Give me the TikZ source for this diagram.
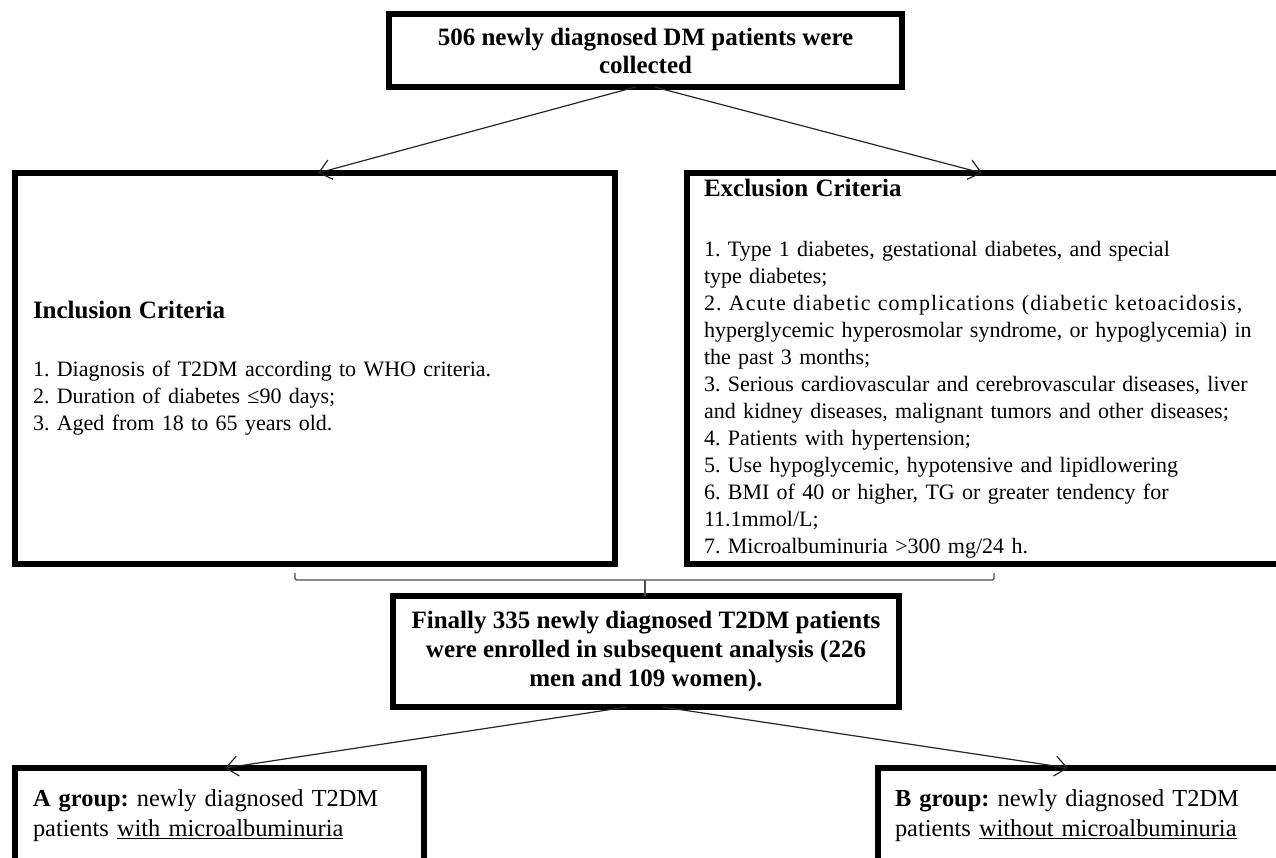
\documentclass[tikz,border=0pt]{standalone}
\usepackage{fontspec}
\setmainfont{Liberation Serif}
\usetikzlibrary{arrows.meta}
\newcommand\bodyfont{\fontsize{22}{27}\selectfont}
\newcommand\titlefont{\fontsize{25}{29}\selectfont\bfseries}
\begin{document}
\frenchspacing
\begin{tikzpicture}[x=1pt,y=-1pt,
  box/.style={draw=black, line width=5.5pt, inner sep=0pt, outer sep=0pt},
  arr/.style={draw=black!85, line width=1.2pt, -{Straight Barb[length=12pt,width=20pt,line width=1.2pt]}},
  brk/.style={draw=black!70, line width=1.3pt, rounded corners=1.5pt}]
\useasboundingbox (0,0) rectangle (1276,857);
\clip (0,0) rectangle (1276,857);
\fill[white] (0,0) rectangle (1276,857);

% top box
\node[box, minimum width=513pt, minimum height=73pt, align=center,
      font=\fontsize{25}{28}\selectfont\bfseries] (top) at (645.5,50.5)
  {506 newly diagnosed DM patients were\\collected};

% inclusion box
\node[box, minimum width=600pt, minimum height=391pt, text width=564pt, align=left,
      font=\bodyfont] (inc) at (315,368.5)
  {{\titlefont Inclusion Criteria}\\[31pt]
   1. Diagnosis of T2DM according to WHO criteria.\\
   2. Duration of diabetes ≤90 days;\\
   3. Aged from 18 to 65 years old.};

% exclusion box
\node[box, minimum width=603pt, minimum height=391pt, text width=569pt, align=left,
      font=\bodyfont] (exc) at (988.5,368.5)
  {{\titlefont Exclusion Criteria}\\[33pt]
   1. Type 1 diabetes, gestational diabetes, and special\\
   type diabetes;\\
   \makebox[564pt][s]{\addfontfeature{LetterSpace=5}2. Acute diabetic complications (diabetic ketoacidosis,}\\
   \makebox[564pt][s]{hyperglycemic hyperosmolar syndrome, or hypoglycemia) in}\\
   the past 3 months;\\
   \makebox[564pt][s]{3. Serious cardiovascular and cerebrovascular diseases, liver}\\
   and kidney diseases, malignant tumors and other diseases;\\
   4. Patients with hypertension;\\
   5. Use hypoglycemic, hypotensive and lipidlowering\\
   6. BMI of 40 or higher, TG or greater tendency for\\
   11.1mmol/L;\\
   7. Microalbuminuria >300 mg/24 h.};

% middle box
\node[box, minimum width=506pt, minimum height=111pt, align=center,
      font=\fontsize{25}{29}\selectfont\bfseries] (mid) at (646,651.5)
  {Finally 335 newly diagnosed T2DM patients\\
   were enrolled in subsequent analysis (226\\
   men and 109 women).};

% group boxes
\node[box, minimum width=409pt, minimum height=95pt, text width=373pt, align=left,
      font=\fontsize{24.4}{30}\selectfont] (ga) at (219.5,815.5)
  {\textbf{A group:} newly diagnosed T2DM\\
   patients \underline{with microalbuminuria}};
\node[box, minimum width=412pt, minimum height=95pt, text width=378pt, align=left,
      font=\fontsize{24.4}{30}\selectfont] (gb) at (1084,815.5)
  {\textbf{B group:} newly diagnosed T2DM\\
   patients \underline{without microalbuminuria}};

% arrows
\draw[arr] ([xshift=-10pt]top.south) -- ([xshift=3pt]inc.north);
\draw[arr] ([xshift=9pt]top.south) -- ([xshift=-6.5pt]exc.north);
\draw[arr] ([xshift=-19pt]mid.south) -- ([xshift=5.5pt]ga.north);
\draw[arr] ([xshift=17pt]mid.south) -- ([xshift=-16pt]gb.north);

% bracket
\coordinate (bl) at (295,573);
\coordinate (bm) at (645,580);
\coordinate (br) at (994,573);
\draw[brk] (bl) |- (bm) -| (br);
\draw[brk] (bm) -- (bm |- mid.north);
\end{tikzpicture}
\end{document}
